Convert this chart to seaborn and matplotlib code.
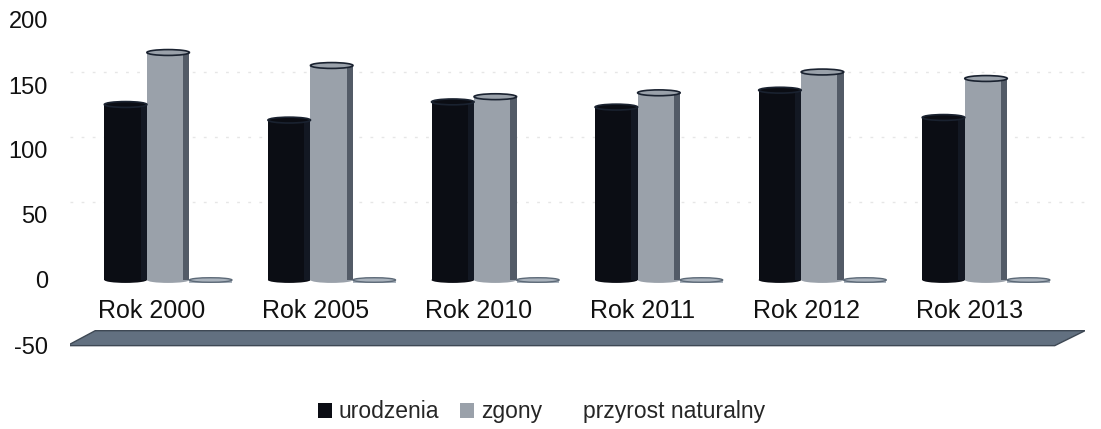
import matplotlib
matplotlib.use("Agg")
import matplotlib.pyplot as plt
import matplotlib.patches as mpatches
import seaborn as sns
import pandas as pd

categories = ["Rok 2000", "Rok 2005", "Rok 2010", "Rok 2011", "Rok 2012", "Rok 2013"]
series_names = ["urodzenia", "zgony", "przyrost naturalny"]
urodzenia = [135, 123, 137, 133, 146, 125]
zgony = [175, 165, 141, 144, 160, 155]
przyrost = [-2, -2, -2, -2, -2, -2]
y_ticks = [-50, 0, 50, 100, 150, 200]

colors = {"urodzenia": "#0b0d14", "zgony": "#9aa1aa", "przyrost naturalny": "#aab3bd"}

rows = []
for name, vals in zip(series_names, [urodzenia, zgony, przyrost]):
    for c, v in zip(categories, vals):
        rows.append({"kat": c, "seria": name, "wartosc": v})
df = pd.DataFrame(rows)

sns.set_theme(style="white")
plt.rcParams["font.family"] = ["Liberation Sans", "DejaVu Sans"]

fig = plt.figure(figsize=(11.01, 4.29), dpi=100)
ax = fig.add_axes([70 / 1101, 1 - 351.5 / 429, 1015 / 1101, (351.5 - 13.5) / 429])

# faint back-wall gridlines
for t in y_ticks[2:-1]:
    ax.axhline(t + 10, color="#e6e6e6", lw=1, ls=(0, (2, 6)), zorder=0)

sns.barplot(data=df, x="kat", y="wartosc", hue="seria", order=categories,
            hue_order=series_names, palette=colors, width=0.78, ax=ax,
            legend=False, saturation=1, edgecolor="none", zorder=3)

# cylinder-like shading: darker right edge and cap
for p in list(ax.patches):
    x0, y0 = p.get_x(), p.get_y()
    w, h = p.get_width(), p.get_height()
    top = y0 + h
    if abs(h) > 5:
        ax.add_patch(mpatches.Rectangle((x0 + w * 0.85, y0), w * 0.15, h,
                                        color="#1a2230", alpha=0.55, lw=0, zorder=4))
        ax.add_patch(mpatches.Ellipse((x0 + w / 2, top), w, 4.5,
                                      facecolor=p.get_facecolor(), edgecolor="#1a2230",
                                      lw=1.2, zorder=5))
        ax.add_patch(mpatches.Ellipse((x0 + w / 2, y0), w, 4.5,
                                      facecolor=p.get_facecolor(), lw=0, zorder=2))
    else:
        ax.add_patch(mpatches.Ellipse((x0 + w / 2, 0), w, 3.5,
                                      facecolor="#aab3bd", edgecolor="#5d6a78",
                                      lw=1, zorder=5))

ax.set_xlim(-0.6, 5.605)
ax.set_ylim(-55, 205)

# floor at -50
floor = mpatches.Polygon([(-0.617, -50.5), (-0.446, -39), (5.605, -39), (5.42, -50.5)],
                         closed=True, facecolor="#627080", edgecolor="#3e4854", lw=1, zorder=1)
ax.add_patch(floor)

ax.set_yticks(y_ticks)
ax.set_yticklabels([str(t) for t in y_ticks])
ax.set_xticks([])
ax.set_xlabel("")
ax.set_ylabel("")
ax.tick_params(axis="y", length=0, pad=16, labelsize=17, labelcolor="#111111")
for s in ax.spines.values():
    s.set_visible(False)

for i, c in enumerate(categories):
    ax.text(i - 0.1, -24, c, ha="center", va="center", fontsize=18, color="#111111")

handles = [mpatches.Patch(facecolor=colors["urodzenia"], edgecolor="none"),
           mpatches.Patch(facecolor=colors["zgony"], edgecolor="none"),
           mpatches.Patch(facecolor="white", edgecolor="none")]
fig.legend(handles, series_names, loc="center", bbox_to_anchor=(0.492, 0.04), ncol=3,
           frameon=False, fontsize=16.5, handlelength=0.6, handleheight=0.6,
           handletextpad=0.3, columnspacing=0.9)

fig.savefig("out.png", dpi=100, facecolor="white")
